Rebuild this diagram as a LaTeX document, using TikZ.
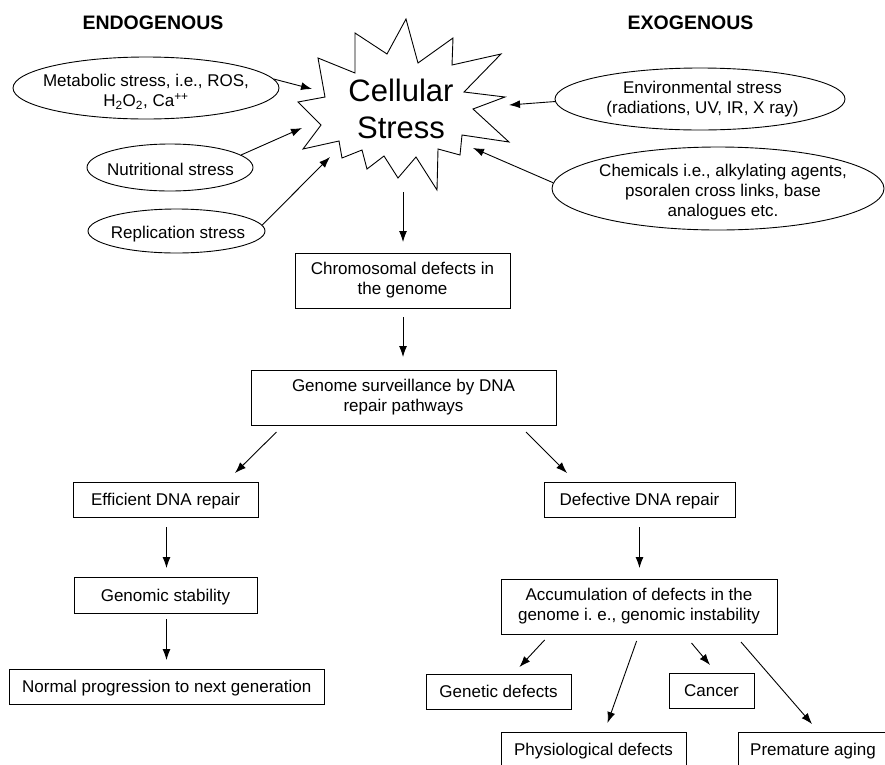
\documentclass[tikz,border=0pt]{standalone}
\usepackage{fontspec}
\setmainfont{Liberation Sans}
\usetikzlibrary{arrows.meta,shapes.geometric}
\begin{document}
\begin{tikzpicture}[x=1pt,y=-1pt,line width=0.9pt,
  box/.style={draw,rectangle,inner sep=0pt,align=center,font=\fontsize{17}{20}\selectfont},
  one/.style={text depth=0pt},
  oval/.style={draw,ellipse,inner sep=0pt},
  lbl/.style={align=center,font=\fontsize{17}{20}\selectfont,inner sep=0pt},
  arr/.style={-{Latex[length=11pt,width=8pt]},line width=0.9pt},
  head/.style={font=\bfseries\fontsize{19.5}{24}\selectfont,inner sep=0pt}]
\useasboundingbox (0,0) rectangle (885,764);
\clip (0,0) rectangle (885,764);

% headings
\node[head] (endo) at (153,23) {ENDOGENOUS};
\node[head] (exo) at (690.5,23) {EXOGENOUS};

% star
\draw[line join=miter] (406,19) -- (418,63) -- (453,38) -- (452,65) -- (501,54) -- (464,92)
  -- (505,97) -- (473,109) -- (509,142) -- (462,135) -- (460,155) -- (438,149)
  -- (437,190) -- (416,157) -- (398,178) -- (384,156) -- (367,169) -- (362,150)
  -- (342,158) -- (339,141) -- (303,149) -- (321,125) -- (298,102) -- (325,97)
  -- (318,58) -- (355,73) -- (355,33) -- (387,54) -- cycle;
\node[align=center,inner sep=0pt,font=\fontsize{31}{37}\selectfont] (star) at (401,108.5) {Cellular\\Stress};

% ellipses
\node[oval,minimum width=266pt,minimum height=62pt] (met) at (146,88) {};
\node[lbl] (mett) at (146,92) {Metabolic stress, i.e., ROS,\\H\textsubscript{2}O\textsubscript{2}, Ca\textsuperscript{++}};
\node[oval,minimum width=166pt,minimum height=47pt] (nut) at (170,167.5) {};
\node[lbl,one] (nutt) at (170.5,169) {Nutritional stress};
\node[oval,minimum width=177pt,minimum height=44pt] (rep) at (176.5,231) {};
\node[lbl,one] (rept) at (178,232) {Replication stress};
\node[oval,minimum width=290pt,minimum height=62pt] (env) at (700,99) {};
\node[lbl] (envt) at (702.5,99) {Environmental stress\\(radiations, UV, IR, X ray)};
\node[oval,minimum width=332pt,minimum height=83pt] (chem) at (718,188.5) {};
\node[lbl] (chemt) at (723,192) {Chemicals i.e., alkylating agents,\\psoralen cross links, base\\analogues etc.};

% arrow ends at the star
\coordinate (a1) at (312,89);
\coordinate (a2) at (302,128);
\coordinate (a3) at (330,157);
\coordinate (a4) at (509,105);
\coordinate (a5) at (473,148);
\draw[arr] (met.4.5) -- (a1);
\draw[arr] (nut.10) -- (a2);
\draw[arr] (rep.4.7) -- (a3);
\draw[arr] (env.181.6) -- (a4);
\draw[arr] (chem.178) -- (a5);

% boxes
\node[box,minimum width=215pt,minimum height=55pt] (chrom) at (402.5,280.5) {Chromosomal defects in\\the genome};
\node[box,minimum width=305pt,minimum height=55pt] (genome) at (403.5,397.5) {Genome surveillance by DNA\\repair pathways};
\node[box,one,minimum width=185pt,minimum height=35pt] (eff) at (165.5,499.5) {Efficient DNA repair};
\node[box,one,minimum width=191pt,minimum height=35pt] (def) at (639.5,499.5) {Defective DNA repair};
\node[box,one,minimum width=183pt,minimum height=36pt] (stab) at (165.5,595) {Genomic stability};
\node[box,one,minimum width=315.5pt,minimum height=35pt] (norm) at (166.75,686.5) {Normal progression to next generation};
\node[box,minimum width=276pt,minimum height=55pt] (accum) at (639,606.5) {Accumulation of defects in the\\genome i.\ e., genomic instability};
\node[box,one,minimum width=145pt,minimum height=35pt] (gen) at (498.5,691.5) {Genetic defects};
\node[box,one,minimum width=85pt,minimum height=35pt] (cancer) at (711.5,690.5) {Cancer};
\node[box,one,minimum width=185pt,minimum height=35pt] (phys) at (593.5,749.5) {Physiological defects};
\node[box,one,minimum width=150pt,minimum height=35pt] (prem) at (813,749.5) {Premature aging};

% connector end points
\coordinate (s0) at (403,192);
\coordinate (s1) at (403,242);
\coordinate (c0) at (403,317);
\coordinate (c1) at (403,357);
\coordinate (g0) at (276.5,432);
\coordinate (g1) at (235,473);
\coordinate (g2) at (526,432);
\coordinate (g3) at (567,473);
\coordinate (e0) at (166.5,527);
\coordinate (e1) at (166.5,568);
\coordinate (t0) at (166.5,619);
\coordinate (t1) at (166.5,660);
\coordinate (d0) at (639.5,527);
\coordinate (d1) at (639.5,568);
\coordinate (u0) at (544.6,640);
\coordinate (u1) at (519.5,667);
\coordinate (u2) at (636.6,641);
\coordinate (u3) at (607.5,723);
\coordinate (u4) at (691.5,643);
\coordinate (u5) at (710,665);
\coordinate (u6) at (741,642);
\coordinate (u7) at (812,724);

\draw[arr] (s0) -- (s1);
\draw[arr] (c0) -- (c1);
\draw[arr] (g0) -- (g1);
\draw[arr] (g2) -- (g3);
\draw[arr] (e0) -- (e1);
\draw[arr] (t0) -- (t1);
\draw[arr] (d0) -- (d1);
\draw[arr] (u0) -- (u1);
\draw[arr] (u2) -- (u3);
\draw[arr] (u4) -- (u5);
\draw[arr] (u6) -- (u7);
\end{tikzpicture}
\end{document}
